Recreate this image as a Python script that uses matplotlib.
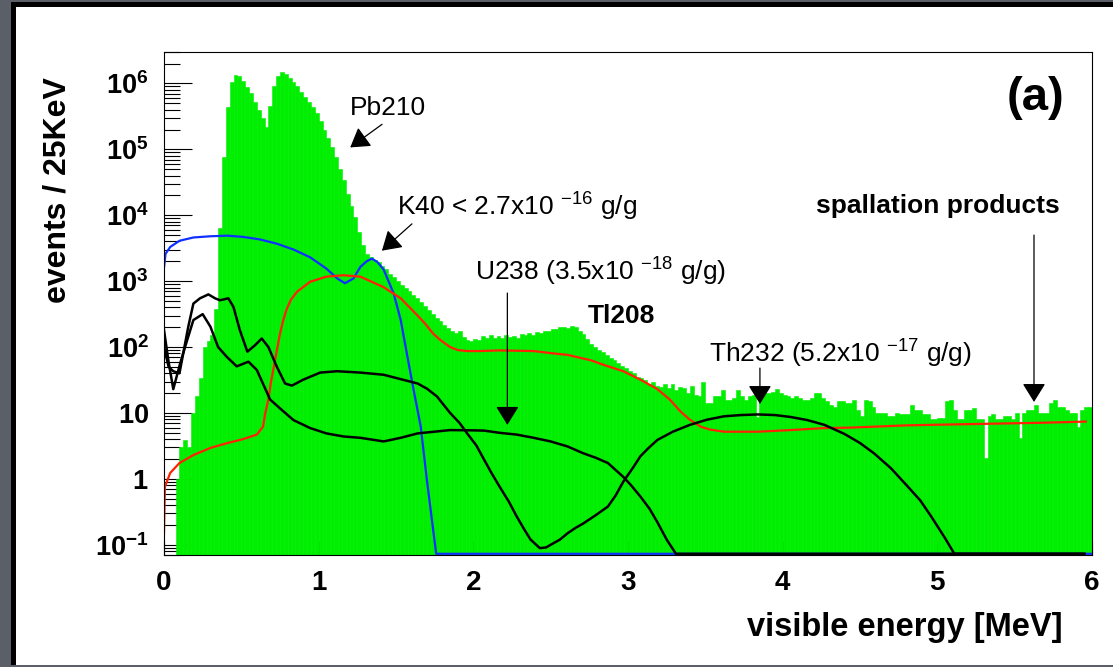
import numpy as np
import matplotlib
matplotlib.use('Agg')
import matplotlib.pyplot as plt
from matplotlib.patches import Rectangle
from matplotlib.ticker import FixedLocator, FixedFormatter, LogLocator, NullFormatter

plt.rcParams['font.family'] = ['Liberation Sans', 'DejaVu Sans']
plt.rcParams['mathtext.fontset'] = 'custom'
plt.rcParams['mathtext.rm'] = 'Liberation Sans'
plt.rcParams['mathtext.it'] = 'Liberation Sans:italic'
plt.rcParams['mathtext.bf'] = 'Liberation Sans:bold'

# histogram: events per 25 keV bin, 0 - 6 MeV
bin_width = 0.025
counts = [
    0, 0, 0, 1.0, 3.0, 3.9, 3.0, 10, 18, 34,
    100, 125, 150, 380, 6300, 7.6e4, 4.4e5, 1.05e6, 1.35e6, 1.28e6,
    1.1e6, 8.7e5, 7.2e5, 5.3e5, 3.9e5, 3.0e5, 2.2e5, 4.6e5, 9.0e5, 1.3e6,
    1.5e6, 1.4e6, 1.2e6, 1.05e6, 9.0e5, 7.4e5, 6.2e5, 5.3e5, 4.4e5, 3.5e5,
    2.7e5, 2.0e5, 1.5e5, 1.1e5, 7.6e4, 5.1e4, 3.4e4, 2.1e4, 1.4e4, 9.5e3,
    5.5e3, 3.6e3, 2.6e3, 2.3e3, 2.1e3, 1.95e3, 1.7e3, 1.55e3, 1.3e3, 1.15e3,
    1.0e3, 890, 790, 710, 620, 550, 480, 420, 360, 320,
    280, 250, 220, 195, 175, 165, 175, 140, 130, 125,
    132, 128, 145, 135, 150, 138, 145, 135, 155, 140,
    148, 138, 160, 150, 162, 155, 170, 162, 178, 174,
    185, 190, 200, 205, 195, 210, 200, 175, 158, 132,
    112, 100, 91, 85, 76, 69, 63, 58, 52, 48,
    44, 40, 35, 34, 32, 28, 30, 26, 25, 28,
    24, 28, 22, 25, 24, 20, 26, 19, 18, 30,
    14, 14, 18, 18, 22, 16, 16, 17, 22, 18,
    16, 18, 19, 8.7, 19, 20, 20, 21, 23, 20,
    19, 18, 17, 18, 17, 16, 16, 17, 20, 20,
    17, 15, 13, 12.5, 15, 15, 14, 14, 16, 11,
    9, 16, 15, 12.5, 10, 10, 10, 9, 9, 10,
    9.5, 9.5, 9.5, 13, 11, 11, 9.5, 9.5, 8, 8,
    8.5, 8.5, 15, 16, 11, 8, 8, 11, 11, 12,
    8, 8, 2.1, 9, 9.5, 8, 8, 9, 9, 8,
    10, 4.2, 10, 11, 11, 13, 10, 10, 10, 14,
    15.8, 12.5, 12.5, 11, 10, 10, 6.2, 11, 12.5, 12.5,
]

# K40 fit component (blue)
k40_e = [0.0, 0.01, 0.04, 0.10, 0.19, 0.30, 0.41, 0.51, 0.62, 0.73, 0.84, 0.945,
         1.05, 1.12, 1.17, 1.225, 1.27, 1.31, 1.344, 1.38, 1.42, 1.485, 1.53,
         1.57, 1.61, 1.66, 1.70, 1.74, 1.76, 6.0]
k40_y = [1600, 2600, 3300, 4100, 4600, 4800, 4900, 4700, 4300, 3700, 3000, 2300,
         1550, 1100, 930, 1100, 1650, 2000, 2200, 1950, 1500, 650, 260,
         80, 25, 6.2, 0.95, 0.17, 0, 0]

# red component
red_e = [0.0, 0.006, 0.04, 0.10, 0.19, 0.30, 0.41, 0.51, 0.60, 0.64, 0.655, 0.675,
         0.69, 0.71, 0.73, 0.75, 0.77, 0.79, 0.82, 0.86, 0.945, 1.05, 1.16, 1.27,
         1.42, 1.53, 1.64, 1.69, 1.74, 1.79, 1.85, 1.90, 1.96, 2.04, 2.17, 2.39,
         2.50, 2.61, 2.76, 2.86, 2.97, 3.08, 3.19, 3.27, 3.34, 3.40, 3.47, 3.53,
         3.62, 3.84, 4.05, 4.27, 4.44, 4.81, 5.24, 5.67, 5.96]
red_y = [0.15, 0.76, 1.23, 1.74, 2.3, 2.95, 3.5, 4.0, 4.7, 6.2, 10, 16,
         28, 50, 90, 160, 250, 360, 520, 690, 980, 1170, 1230, 1170,
         810, 550, 300, 224, 160, 126, 100, 90, 87, 87, 89, 87,
         81, 76, 63, 52, 43, 32, 23, 16, 10.5, 7.9, 6.2, 5.6,
         5.2, 5.2, 5.5, 5.9, 6.0, 6.5, 6.8, 7.1, 7.4]

# Th232 component (black)
th_e = [0.0, 0.03, 0.06, 0.10, 0.157, 0.19, 0.233, 0.287, 0.33, 0.362, 0.416, 0.449,
        0.49, 0.539, 0.589, 0.632, 0.675, 0.73, 0.783, 0.827, 0.90, 1.01, 1.118,
        1.27, 1.42, 1.64, 1.70, 1.765, 1.85, 1.91, 1.96, 2.02, 2.07, 2.12, 2.17,
        2.23, 2.28, 2.33, 2.37, 2.43, 2.47, 2.50, 2.56, 2.61, 2.66, 2.71, 2.79,
        2.87, 2.92, 2.97, 3.03, 3.08, 3.13, 3.19, 3.29, 3.40, 3.51, 3.62, 3.73,
        3.84, 3.95, 4.05, 4.16, 4.27, 4.40, 4.50, 4.59, 4.70, 4.81, 4.89, 4.96,
        5.05, 5.11, 5.95]
th_y = [100, 50, 43, 40, 204, 457, 550, 630, 550, 513, 550, 407,
        182, 85, 107, 135, 100, 50, 28, 26, 32, 41, 43,
        41, 38, 28, 23.4, 17.8, 10, 7.1, 4.9, 3.2, 1.95, 1.2, 0.76,
        0.45, 0.27, 0.17, 0.12, 0.089, 0.091, 0.10, 0.12, 0.15, 0.18, 0.21, 0.28,
        0.38, 0.56, 0.91, 1.45, 2.2, 2.9, 3.9, 5.2, 6.6, 7.9, 8.9, 9.3,
        9.5, 9.3, 8.7, 7.8, 6.6, 4.8, 3.5, 2.45, 1.45, 0.76, 0.47, 0.27,
        0.126, 0, 0]

# U238 component (black)
u_e = [0.0, 0.028, 0.06, 0.104, 0.136, 0.19, 0.25, 0.30, 0.35, 0.406, 0.47, 0.546,
       0.60, 0.686, 0.76, 0.837, 0.945, 1.05, 1.16, 1.27, 1.42, 1.53, 1.64, 1.85,
       2.0, 2.07, 2.17, 2.28, 2.39, 2.50, 2.61, 2.71, 2.79, 2.87, 2.97, 3.02,
       3.08, 3.14, 3.19, 3.25, 3.31, 5.95]
u_y = [182, 63, 23, 56, 100, 257, 316, 204, 100, 71, 51, 60,
       45, 16, 11.2, 7.8, 5.9, 4.9, 4.4, 4.2, 3.7, 4.2, 4.9, 5.5,
       5.45, 5.4, 5.0, 4.7, 4.2, 3.7, 3.1, 2.45, 2.1, 1.74, 1.07, 0.8,
       0.54, 0.35, 0.22, 0.12, 0, 0]

y_ticks = [0.1, 1, 10, 1e2, 1e3, 1e4, 1e5, 1e6]
y_tick_labels = [r'$\mathbf{10^{-1}}$', r'$\mathbf{1}$', r'$\mathbf{10}$', r'$\mathbf{10^{2}}$',
                 r'$\mathbf{10^{3}}$', r'$\mathbf{10^{4}}$', r'$\mathbf{10^{5}}$', r'$\mathbf{10^{6}}$']
x_ticks = [0, 1, 2, 3, 4, 5, 6]
x_tick_labels = ['0', '1', '2', '3', '4', '5', '6']

ymin, ymax = 0.07, 3e6
floor = 0.073

fig = plt.figure(figsize=(11.13, 6.67), dpi=100, facecolor='#5b5f68')
fig.patches.append(Rectangle((11 / 1113, 2 / 667), 1, 663 / 667, transform=fig.transFigure,
                             facecolor='black', edgecolor='none', zorder=-2))
fig.patches.append(Rectangle((16 / 1113, 2 / 667), 1, 658 / 667, transform=fig.transFigure,
                             facecolor='white', edgecolor='none', zorder=-1))

ax = fig.add_axes([164 / 1113, 112 / 667, 928 / 1113, 503 / 667])
ax.set_axisbelow(True)

edges = np.arange(len(counts)) * bin_width
ax.bar(edges, counts, width=bin_width, align='edge', color='#00ee00',
       edgecolor='#00ee00', linewidth=0.4)

ax.plot(k40_e, np.maximum(k40_y, floor), color='#1030ff', lw=1.6)
ax.plot(red_e, np.maximum(red_y, floor), color='#ff2200', lw=1.6)
ax.plot(th_e, np.maximum(th_y, floor), color='black', lw=1.8)
ax.plot(u_e, np.maximum(u_y, floor), color='black', lw=1.8)

ax.set_yscale('log')
ax.set_xlim(0, 6)
ax.set_ylim(ymin, ymax)

ax.yaxis.set_major_locator(FixedLocator(y_ticks))
ax.yaxis.set_major_formatter(FixedFormatter(y_tick_labels))
ax.yaxis.set_minor_locator(LogLocator(base=10, subs=np.arange(2, 10), numticks=30))
ax.yaxis.set_minor_formatter(NullFormatter())
ax.tick_params(axis='y', which='major', direction='in', length=20, width=0.8, pad=11, labelsize=19.5)
ax.tick_params(axis='y', which='minor', direction='in', length=11.5, width=0.8)
ax.set_xticks(x_ticks)
ax.set_xticklabels(x_tick_labels, fontweight='bold')
ax.tick_params(axis='x', direction='in', length=10, pad=11, labelsize=20)

for s in ax.spines.values():
    s.set_linewidth(0.8)

ax.set_ylabel('events / 25KeV', fontsize=23, fontweight='bold', loc='top')
ax.yaxis.set_label_coords(-0.099, 0.95)
ax.set_xlabel('visible energy [MeV]', fontsize=23.5, fontweight='bold', loc='right')
ax.xaxis.set_label_coords(0.9688, -0.113)

ax.text(0.9386, 0.885, '(a)', transform=ax.transAxes, ha='center', va='baseline',
        fontsize=34, fontweight='bold')

arrow = dict(arrowstyle='-|>,head_length=0.58,head_width=0.36', mutation_scale=20,
             color='black', lw=0.9, shrinkA=0, shrinkB=0)

ax.text(1.204, 3.3e5, 'Pb210', fontsize=19, va='baseline')
ax.annotate('', xy=(1.204, 1.07e5), xytext=(1.41, 2.4e5), arrowprops=arrow)

ax.text(1.508, 1.0e4, r'K40 < 2.7x10 $^{-16}$ g/g', fontsize=19, va='baseline')
ax.annotate('', xy=(1.409, 2.9e3), xytext=(1.603, 7.4e3), arrowprops=arrow)

ax.text(2.013, 1.03e3, r'U238 (3.5x10 $^{-18}$ g/g)', fontsize=19, va='baseline')
ax.annotate('', xy=(2.22, 6.6), xytext=(2.22, 660), arrowprops=arrow)

ax.text(2.738, 231, 'Tl208', fontsize=19, fontweight='bold', va='baseline')

ax.text(3.521, 59, r'Th232 (5.2x10 $^{-17}$ g/g)', fontsize=19, va='baseline')
ax.annotate('', xy=(3.853, 13.7), xytext=(3.853, 48), arrowprops=arrow)

ax.text(4.214, 1.07e4, 'spallation products', fontsize=19, fontweight='bold', va='baseline')
ax.annotate('', xy=(5.625, 14.7), xytext=(5.625, 5e3), arrowprops=arrow)

fig.savefig('out.png', dpi=100, facecolor=fig.get_facecolor())
